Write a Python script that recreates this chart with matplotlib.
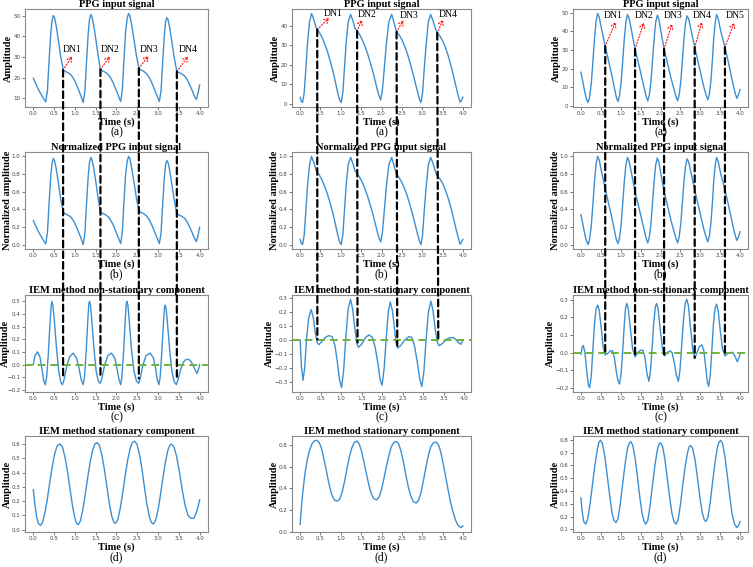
import matplotlib

matplotlib.use("Agg")
import matplotlib.pyplot as plt
from matplotlib.patches import ConnectionPatch

W, H = 753, 567

# ---- column 1 ----
PPG_1 = [
    (0.00, 19.7), (0.05, 17.5), (0.10, 15.2), (0.15, 13.3), (0.20, 11.5), (0.25, 9.8), (0.30, 8.4),
    (0.34, 14.0), (0.38, 28.5), (0.42, 41.5), (0.45, 47.5), (0.48, 50.0), (0.51, 49.0), (0.55, 45.0),
    (0.60, 38.5), (0.66, 30.0), (0.72, 23.7), (0.77, 23.0), (0.83, 22.4), (0.90, 21.5), (0.96, 19.8),
    (1.02, 17.5), (1.08, 14.5), (1.14, 11.5), (1.20, 8.0),
    (1.24, 13.5), (1.28, 28.0), (1.32, 41.5), (1.35, 48.0), (1.38, 50.5), (1.41, 49.5), (1.45, 45.5),
    (1.50, 39.0), (1.56, 30.5), (1.61, 24.0), (1.67, 23.2), (1.73, 22.6), (1.80, 21.6), (1.86, 19.9),
    (1.92, 17.6), (1.98, 14.6), (2.04, 11.6), (2.10, 8.5),
    (2.14, 14.0), (2.18, 29.0), (2.22, 42.5), (2.26, 49.0), (2.29, 51.0), (2.32, 50.0), (2.36, 46.0),
    (2.42, 38.5), (2.48, 30.5), (2.54, 24.5), (2.60, 23.6), (2.66, 23.0), (2.73, 21.8), (2.79, 20.0),
    (2.85, 17.5), (2.91, 14.5), (2.97, 11.5), (3.03, 8.5),
    (3.07, 13.5), (3.11, 27.5), (3.15, 40.5), (3.18, 47.0), (3.21, 49.0), (3.24, 48.0), (3.28, 44.0),
    (3.33, 37.5), (3.39, 29.5), (3.45, 23.0), (3.51, 22.4), (3.57, 21.8), (3.64, 20.8), (3.70, 19.0),
    (3.76, 16.6), (3.82, 13.8), (3.87, 11.2), (3.92, 9.5), (3.96, 12.5), (4.00, 16.5),
]
NONSTAT_1 = [
    (0.00, 0.00), (0.04, 0.07), (0.10, 0.10), (0.16, 0.06), (0.21, -0.04), (0.25, -0.13), (0.29, -0.16),
    (0.32, -0.10), (0.36, 0.08), (0.40, 0.32), (0.43, 0.47), (0.445, 0.50), (0.47, 0.47), (0.51, 0.33),
    (0.56, 0.12), (0.61, -0.05), (0.66, -0.14), (0.70, -0.16), (0.74, -0.12), (0.80, -0.02), (0.87, 0.06),
    (0.96, 0.09), (1.04, 0.05), (1.10, -0.03), (1.15, -0.12), (1.20, -0.16),
    (1.23, -0.10), (1.27, 0.10), (1.31, 0.35), (1.335, 0.48), (1.35, 0.50), (1.375, 0.47), (1.41, 0.33),
    (1.46, 0.12), (1.51, -0.05), (1.56, -0.13), (1.61, -0.15), (1.65, -0.11), (1.71, -0.01), (1.79, 0.07),
    (1.88, 0.09), (1.96, 0.05), (2.01, -0.03), (2.06, -0.12), (2.10, -0.16),
    (2.13, -0.10), (2.17, 0.10), (2.21, 0.36), (2.235, 0.48), (2.25, 0.50), (2.275, 0.47), (2.31, 0.33),
    (2.36, 0.12), (2.42, -0.05), (2.48, -0.13), (2.53, -0.15), (2.57, -0.11), (2.63, -0.01), (2.71, 0.07),
    (2.81, 0.09), (2.89, 0.05), (2.94, -0.03), (2.98, -0.12), (3.02, -0.16),
    (3.05, -0.10), (3.09, 0.10), (3.13, 0.34), (3.155, 0.45), (3.17, 0.47), (3.195, 0.44), (3.23, 0.31),
    (3.28, 0.11), (3.33, -0.05), (3.39, -0.14), (3.44, -0.16), (3.48, -0.12), (3.54, -0.04), (3.61, 0.02),
    (3.67, 0.04), (3.74, 0.04), (3.80, 0.02), (3.86, -0.02), (3.90, -0.05), (3.94, -0.07), (3.97, -0.04),
    (4.00, 0.00),
]
STAT_1 = [
    (0.00, 0.28), (0.04, 0.17), (0.08, 0.09), (0.12, 0.045), (0.17, 0.03), (0.22, 0.05), (0.28, 0.12),
    (0.34, 0.22), (0.40, 0.34), (0.46, 0.45), (0.52, 0.54), (0.58, 0.59), (0.64, 0.60), (0.70, 0.58),
    (0.76, 0.51), (0.82, 0.41), (0.88, 0.29), (0.94, 0.17), (1.00, 0.08), (1.04, 0.045), (1.08, 0.035),
    (1.13, 0.06), (1.19, 0.14), (1.25, 0.25), (1.31, 0.37), (1.37, 0.48), (1.43, 0.56), (1.48, 0.60),
    (1.53, 0.61), (1.59, 0.59), (1.65, 0.52), (1.71, 0.42), (1.77, 0.30), (1.83, 0.18), (1.89, 0.09),
    (1.94, 0.05), (1.98, 0.045), (2.03, 0.07), (2.09, 0.15), (2.15, 0.26), (2.21, 0.38), (2.27, 0.49),
    (2.33, 0.57), (2.38, 0.61), (2.43, 0.62), (2.49, 0.60), (2.55, 0.53), (2.61, 0.43), (2.67, 0.30),
    (2.73, 0.18), (2.79, 0.09), (2.84, 0.05), (2.89, 0.04), (2.94, 0.065), (3.00, 0.14), (3.06, 0.25),
    (3.12, 0.37), (3.18, 0.48), (3.24, 0.56), (3.28, 0.59), (3.32, 0.60), (3.38, 0.58), (3.44, 0.52),
    (3.51, 0.41), (3.58, 0.28), (3.65, 0.17), (3.72, 0.10), (3.79, 0.08), (3.86, 0.08), (3.92, 0.12),
    (3.96, 0.16), (4.00, 0.21),
]

# ---- column 2 ----
PPG_2 = [
    (0.00, 3.4), (0.03, 1.3), (0.06, 0.7),
    (0.10, 5.7), (0.14, 18.0), (0.18, 30.7), (0.23, 42.0), (0.28, 46.4), (0.34, 43.0), (0.39, 39.3),
    (0.42, 38.2), (0.47, 36.8), (0.53, 34.5), (0.60, 31.0), (0.67, 27.0), (0.74, 22.0), (0.81, 16.5),
    (0.87, 11.0), (0.92, 6.0), (0.97, 2.0), (1.01, 0.7),
    (1.05, 6.0), (1.09, 18.5), (1.13, 31.0), (1.18, 42.0), (1.24, 45.9), (1.30, 42.5), (1.35, 38.8),
    (1.40, 37.3), (1.45, 36.0), (1.51, 33.7), (1.58, 30.3), (1.65, 26.3), (1.72, 21.5), (1.79, 16.3),
    (1.85, 11.3), (1.90, 7.0), (1.95, 3.5), (1.98, 2.1),
    (2.02, 6.5), (2.07, 18.5), (2.12, 31.0), (2.18, 42.0), (2.25, 45.9), (2.31, 41.5), (2.35, 38.3),
    (2.37, 37.0), (2.43, 35.5), (2.50, 33.0), (2.57, 29.5), (2.64, 25.5), (2.71, 20.5), (2.78, 15.0),
    (2.84, 10.0), (2.89, 5.8), (2.93, 2.6), (2.97, 0.7),
    (3.01, 5.8), (3.05, 18.0), (3.10, 31.0), (3.15, 42.0), (3.21, 45.9), (3.27, 42.5), (3.33, 38.3),
    (3.37, 36.4), (3.43, 35.0), (3.50, 32.5), (3.57, 29.0), (3.64, 24.7), (3.71, 19.5), (3.77, 14.3),
    (3.83, 9.0), (3.88, 4.8), (3.93, 0.9), (3.97, 2.0), (4.00, 3.4),
]
NONSTAT_2 = [
    (0.00, 0.00), (0.03, -0.18), (0.07, -0.285), (0.11, -0.20), (0.16, 0.02), (0.21, 0.16), (0.27, 0.216),
    (0.32, 0.16), (0.37, 0.05), (0.42, -0.02), (0.46, -0.033), (0.53, -0.01), (0.62, 0.02), (0.70, 0.031),
    (0.78, 0.025), (0.85, -0.04), (0.91, -0.16), (0.96, -0.28), (1.01, -0.337), (1.06, -0.22), (1.11, 0.0),
    (1.17, 0.22), (1.23, 0.288), (1.28, 0.22), (1.34, 0.07), (1.39, -0.03), (1.42, -0.052), (1.50, -0.03),
    (1.60, 0.02), (1.68, 0.036), (1.76, 0.02), (1.83, -0.05), (1.90, -0.17), (1.95, -0.28), (2.00, -0.32),
    (2.05, -0.20), (2.10, 0.01), (2.15, 0.20), (2.20, 0.27), (2.25, 0.21), (2.30, 0.09), (2.34, -0.02),
    (2.38, -0.057), (2.45, -0.04), (2.55, 0.00), (2.65, 0.024), (2.72, 0.02), (2.79, -0.04), (2.86, -0.16),
    (2.92, -0.28), (2.97, -0.33), (3.02, -0.22), (3.07, -0.01), (3.13, 0.20), (3.19, 0.276), (3.24, 0.21),
    (3.30, 0.07), (3.35, -0.02), (3.39, -0.04), (3.47, -0.025), (3.57, 0.005), (3.66, 0.017), (3.74, 0.017),
    (3.81, 0.0), (3.87, -0.02), (3.92, -0.03), (3.95, -0.015), (3.97, 0.0),
]
STAT_2 = [
    (0.00, 0.07), (0.03, 0.22), (0.07, 0.38), (0.12, 0.54), (0.18, 0.67), (0.24, 0.76), (0.30, 0.815),
    (0.36, 0.838), (0.41, 0.84), (0.47, 0.82), (0.53, 0.76), (0.59, 0.66), (0.65, 0.55), (0.71, 0.44),
    (0.77, 0.35), (0.83, 0.30), (0.88, 0.285), (0.92, 0.285), (0.97, 0.30), (1.03, 0.36), (1.09, 0.46),
    (1.15, 0.58), (1.21, 0.69), (1.27, 0.77), (1.33, 0.82), (1.39, 0.834), (1.45, 0.81), (1.51, 0.74),
    (1.57, 0.64), (1.63, 0.53), (1.69, 0.43), (1.75, 0.35), (1.81, 0.305), (1.88, 0.295), (1.94, 0.32),
    (2.00, 0.39), (2.06, 0.49), (2.12, 0.60), (2.18, 0.70), (2.24, 0.78), (2.30, 0.82), (2.36, 0.83),
    (2.42, 0.81), (2.48, 0.74), (2.54, 0.64), (2.60, 0.52), (2.66, 0.41), (2.72, 0.33), (2.78, 0.28),
    (2.85, 0.265), (2.91, 0.29), (2.97, 0.36), (3.03, 0.47), (3.09, 0.59), (3.15, 0.70), (3.21, 0.78),
    (3.27, 0.815), (3.34, 0.825), (3.40, 0.80), (3.46, 0.73), (3.52, 0.62), (3.58, 0.50), (3.64, 0.38),
    (3.70, 0.27), (3.76, 0.18), (3.82, 0.11), (3.88, 0.06), (3.95, 0.04), (4.00, 0.055),
]

# ---- column 3 ----
PPG_3 = [
    (0.00, 18.0), (0.05, 12.5), (0.10, 7.0), (0.14, 3.5), (0.18, 1.7),
    (0.22, 5.0), (0.26, 12.0), (0.30, 23.5), (0.34, 36.0), (0.38, 45.5), (0.42, 49.6), (0.46, 47.5),
    (0.52, 41.0), (0.61, 32.0), (0.69, 24.5), (0.77, 17.0), (0.84, 9.5), (0.89, 4.5), (0.93, 2.2),
    (0.97, 5.5), (1.01, 12.5), (1.05, 24.0), (1.09, 36.0), (1.13, 45.0), (1.17, 49.0), (1.21, 47.0),
    (1.27, 40.5), (1.36, 30.5), (1.44, 23.5), (1.52, 16.0), (1.59, 9.5), (1.64, 5.0), (1.68, 2.6),
    (1.72, 6.0), (1.76, 13.0), (1.80, 24.5), (1.84, 36.0), (1.88, 45.0), (1.92, 48.7), (1.96, 46.5),
    (2.01, 40.0), (2.09, 30.5), (2.17, 23.5), (2.25, 16.0), (2.33, 9.5), (2.39, 5.0), (2.43, 2.6),
    (2.47, 6.0), (2.51, 13.0), (2.55, 24.5), (2.59, 36.0), (2.63, 44.5), (2.67, 48.3), (2.71, 46.5),
    (2.77, 40.5), (2.86, 31.4), (2.94, 24.0), (3.02, 16.5), (3.09, 10.0), (3.15, 5.5), (3.19, 3.2),
    (3.23, 6.5), (3.27, 14.0), (3.31, 26.0), (3.34, 37.0), (3.38, 45.5), (3.41, 49.0), (3.45, 47.0),
    (3.51, 40.5), (3.62, 31.4), (3.70, 24.0), (3.77, 17.0), (3.83, 11.0), (3.88, 6.5), (3.92, 4.0),
    (3.96, 5.8), (4.00, 8.7),
]
NONSTAT_3 = [
    (0.00, -0.01), (0.03, 0.03), (0.06, 0.04), (0.10, 0.00), (0.15, -0.12), (0.19, -0.19), (0.22, -0.20),
    (0.26, -0.13), (0.30, 0.02), (0.34, 0.16), (0.38, 0.25), (0.42, 0.27), (0.46, 0.24), (0.51, 0.14),
    (0.56, 0.03), (0.61, -0.014), (0.67, -0.005), (0.74, 0.01), (0.79, 0.01), (0.84, -0.03), (0.89, -0.11),
    (0.93, -0.16), (0.97, -0.18), (1.01, -0.12), (1.05, 0.01), (1.09, 0.16), (1.12, 0.25), (1.15, 0.28),
    (1.19, 0.25), (1.24, 0.14), (1.30, 0.02), (1.36, -0.025), (1.43, 0.00), (1.50, 0.013), (1.56, 0.013),
    (1.61, -0.03), (1.66, -0.12), (1.71, -0.164), (1.75, -0.10), (1.79, 0.03), (1.83, 0.17), (1.87, 0.26),
    (1.90, 0.28), (1.94, 0.25), (1.99, 0.14), (2.05, 0.02), (2.10, -0.02), (2.17, 0.00), (2.24, 0.01),
    (2.29, 0.00), (2.34, -0.05), (2.40, -0.13), (2.45, -0.164), (2.49, -0.10), (2.53, 0.03), (2.58, 0.19),
    (2.62, 0.28), (2.66, 0.303), (2.70, 0.27), (2.75, 0.15), (2.81, 0.02), (2.86, -0.033), (2.92, 0.00),
    (2.98, 0.035), (3.04, 0.044), (3.09, 0.01), (3.14, -0.09), (3.18, -0.17), (3.21, -0.193), (3.25, -0.13),
    (3.29, 0.01), (3.33, 0.16), (3.37, 0.25), (3.41, 0.276), (3.45, 0.24), (3.50, 0.13), (3.56, 0.02),
    (3.62, -0.02), (3.69, -0.005), (3.76, 0.00), (3.82, 0.00), (3.87, -0.02), (3.93, -0.052), (3.97, -0.03),
    (4.00, -0.01),
]
STAT_3 = [
    (0.00, 0.345), (0.03, 0.24), (0.07, 0.16), (0.12, 0.14), (0.17, 0.18), (0.23, 0.30), (0.29, 0.45),
    (0.35, 0.60), (0.41, 0.72), (0.45, 0.78), (0.49, 0.795), (0.54, 0.77), (0.60, 0.67), (0.66, 0.52),
    (0.72, 0.37), (0.78, 0.23), (0.83, 0.17), (0.88, 0.153), (0.93, 0.18), (0.99, 0.30), (1.05, 0.46),
    (1.11, 0.61), (1.17, 0.73), (1.21, 0.77), (1.25, 0.784), (1.30, 0.76), (1.36, 0.66), (1.42, 0.51),
    (1.48, 0.35), (1.54, 0.22), (1.59, 0.16), (1.63, 0.14), (1.68, 0.17), (1.74, 0.29), (1.80, 0.45),
    (1.86, 0.60), (1.92, 0.72), (1.96, 0.765), (2.00, 0.776), (2.05, 0.75), (2.11, 0.65), (2.17, 0.50),
    (2.23, 0.35), (2.29, 0.22), (2.34, 0.16), (2.39, 0.14), (2.44, 0.17), (2.50, 0.29), (2.56, 0.45),
    (2.62, 0.59), (2.68, 0.70), (2.72, 0.745), (2.76, 0.755), (2.81, 0.73), (2.87, 0.64), (2.93, 0.50),
    (2.99, 0.35), (3.05, 0.23), (3.10, 0.175), (3.14, 0.16), (3.19, 0.19), (3.25, 0.31), (3.31, 0.47),
    (3.37, 0.62), (3.43, 0.74), (3.47, 0.78), (3.51, 0.795), (3.56, 0.77), (3.62, 0.67), (3.68, 0.52),
    (3.74, 0.36), (3.80, 0.22), (3.86, 0.14), (3.92, 0.113), (3.96, 0.13), (4.00, 0.16),
]

# dicrotic notch: time, PPG value, value on the non-stationary panel where the dashed line stops
DN_1 = [(0.716, 23.7, -0.11), (1.614, 24.0, -0.11), (2.537, 24.5, -0.11), (3.451, 23.0, -0.12)]
DN_2 = [(0.42, 38.2, 0.005), (1.40, 37.3, -0.017), (2.37, 37.0, -0.04), (3.37, 36.4, -0.005)]
DN_3 = [(0.61, 32.0, -0.005), (1.36, 30.5, -0.02), (2.09, 30.5, -0.02), (2.86, 31.4, -0.03), (3.62, 31.4, -0.02)]

# DN label centre and arrow tip (data coords of the PPG panel)
DN_LABELS_1 = [((0.94, 33.4), (0.93, 30.3)), ((1.85, 33.4), (1.84, 30.3)),
               ((2.78, 33.7), (2.77, 30.5)), ((3.73, 33.4), (3.72, 30.3))]
DN_LABELS_2 = [((0.80, 46.4), (0.71, 44.1)), ((1.64, 46.0), (1.52, 43.2)),
               ((2.67, 45.3), (2.54, 42.9)), ((3.63, 45.9), (3.51, 43.2))]
DN_LABELS_3 = [((0.80, 48.7), (0.87, 45.0)), ((1.59, 48.7), (1.58, 44.6)), ((2.31, 48.3), (2.29, 44.0)),
               ((3.04, 48.7), (3.04, 45.0)), ((3.87, 48.7), (3.85, 44.6))]

TITLES = ["PPG input signal", "Normalized PPG input signal",
          "IEM method non-stationary component", "IEM method stationary component"]
YLABELS = ["Amplitude", "Normalized amplitude", "Amplitude", "Amplitude"]
TAGS = ["(a)", "(b)", "(c)", "(d)"]

COL_X = [(25, 208), (292, 471), (573, 748)]
ROW_Y = [(9, 107), (152, 249), (295, 392), (436, 532)]
YLIM_FIX = {(2, 0): (-0.218, 0.551), (3, 0): (-0.016, 0.656)}

SERIF = "Liberation Serif"
LINE_C = "#3d8fd1"


def normalize(series):
    vals = [v for _, v in series]
    lo, hi = min(vals), max(vals)
    return [(t, (v - lo) / (hi - lo)) for t, v in series]


def make_axes(fig, row, col):
    x0, x1 = COL_X[col]
    y0, y1 = ROW_Y[row]
    ax = fig.add_axes([x0 / W, 1 - y1 / H, (x1 - x0) / W, (y1 - y0) / H])
    for sp in ax.spines.values():
        sp.set_color("#8a8a8a")
        sp.set_linewidth(0.8)
    ax.tick_params(labelsize=4, colors="#444444", length=2, width=0.5, pad=1.2)
    ax.set_xticks([0.0, 0.5, 1.0, 1.5, 2.0, 2.5, 3.0, 3.5, 4.0])
    ax.set_xticklabels(["0.0", "0.5", "1.0", "1.5", "2.0", "2.5", "3.0", "3.5", "4.0"])
    ax.set_title(TITLES[row], fontsize=7.5, fontweight="bold", family=SERIF, pad=1.5)
    ax.set_xlabel("Time (s)", fontsize=7.5, fontweight="bold", family=SERIF, labelpad=0.5)
    ax.set_ylabel(YLABELS[row], fontsize=7.5, fontweight="bold", family=SERIF, labelpad=0.2)
    if x0 < 40 and row == 2:
        # keep the label inside the figure next to the wider "-0.1" tick labels
        ax.yaxis.set_label_coords((10 - x0) / (x1 - x0), 0.5)
    ax.annotate(TAGS[row], xy=(0.5, 0), xycoords="axes fraction", xytext=(0, -25),
                textcoords="offset pixels", ha="center", va="center", fontsize=8.5, family=SERIF)
    return ax


def plot_series(ax, series):
    ts = [t for t, _ in series]
    vs = [v for _, v in series]
    ax.plot(ts, vs, color=LINE_C, lw=1.0)


def main() -> None:
    fig = plt.figure(figsize=(W / 100, H / 100), dpi=100)
    columns = [
        (PPG_1, NONSTAT_1, STAT_1, DN_1, DN_LABELS_1),
        (PPG_2, NONSTAT_2, STAT_2, DN_2, DN_LABELS_2),
        (PPG_3, NONSTAT_3, STAT_3, DN_3, DN_LABELS_3),
    ]
    for col, (ppg, nonstat, stat, dns, labels) in enumerate(columns):
        rows = [ppg, normalize(ppg), nonstat, stat]
        axes = []
        for row, series in enumerate(rows):
            ax = make_axes(fig, row, col)
            plot_series(ax, series)
            if (row, col) in YLIM_FIX:
                ax.set_ylim(*YLIM_FIX[(row, col)])
            axes.append(ax)

        axes[2].axhline(0, color="#6cb33e", lw=1.4, ls=(0, (4, 2.5)), zorder=3)

        for i, ((lx, ly), (ax_, ay_)) in enumerate(labels):
            t_dn, v_dn, _ = dns[i]
            axes[0].text(lx, ly, f"DN{i + 1}", ha="center", va="center", fontsize=7, family=SERIF)
            axes[0].annotate("", xy=(ax_, ay_), xytext=(t_dn, v_dn),
                             arrowprops=dict(arrowstyle="->,head_length=0.3,head_width=0.18",
                                             color="red", lw=0.8, ls=":", shrinkA=0, shrinkB=0))

        for t_dn, v_top, v_bot in dns:
            con = ConnectionPatch(xyA=(t_dn, v_top), coordsA="data", axesA=axes[0],
                                  xyB=(t_dn, v_bot), coordsB="data", axesB=axes[2],
                                  color="black", lw=1.6, ls=(0, (3, 1.8)), zorder=10)
            fig.add_artist(con)

    fig.savefig("out.png", dpi=100)
    plt.close(fig)


if __name__ == "__main__":
    main()
